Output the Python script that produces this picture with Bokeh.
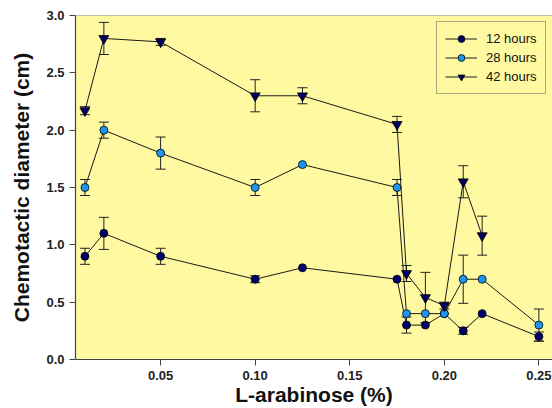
from bokeh.plotting import figure
from bokeh.models import (ColumnDataSource, Whisker, TeeHead, Legend, LegendItem,
                          FixedTicker, PrintfTickFormatter, Span)
from bokeh.embed import file_html
from bokeh.resources import INLINE

# ---- data (L-arabinose %, chemotactic diameter cm, error) ----
x_12 = [0.01, 0.02, 0.05, 0.10, 0.125, 0.175, 0.18, 0.19, 0.20, 0.21, 0.22, 0.25]
y_12 = [0.90, 1.10, 0.90, 0.70, 0.80, 0.70, 0.30, 0.30, 0.40, 0.25, 0.40, 0.20]
e_12 = [0.07, 0.14, 0.07, 0.03, 0.0, 0.0, 0.07, 0.0, 0.0, 0.03, 0.0, 0.04]

x_28 = [0.01, 0.02, 0.05, 0.10, 0.125, 0.175, 0.18, 0.19, 0.20, 0.21, 0.22, 0.25]
y_28 = [1.50, 2.00, 1.80, 1.50, 1.70, 1.50, 0.40, 0.40, 0.40, 0.70, 0.70, 0.30]
e_28 = [0.07, 0.07, 0.14, 0.07, 0.0, 0.07, 0.0, 0.0, 0.0, 0.21, 0.0, 0.14]

x_42 = [0.01, 0.02, 0.05, 0.10, 0.125, 0.175, 0.18, 0.19, 0.20, 0.21, 0.22]
y_42 = [2.17, 2.80, 2.77, 2.30, 2.30, 2.05, 0.75, 0.54, 0.47, 1.55, 1.08]
e_42 = [0.035, 0.14, 0.03, 0.14, 0.07, 0.07, 0.07, 0.22, 0.03, 0.14, 0.17]

x_ticks = [0.05, 0.10, 0.15, 0.20, 0.25]
y_ticks = [0.0, 0.5, 1.0, 1.5, 2.0, 2.5, 3.0]
labels = ["12 hours", "28 hours", "42 hours"]

FONT = "Liberation Sans"
YELLOW = "#FFFAA2"

p = figure(width=552, height=408, output_backend="svg", toolbar_location=None,
           x_range=(0.005, 0.2572), y_range=(0.0, 3.0),
           min_border_left=75, min_border_right=0, min_border_top=15,
           min_border_bottom=49)
p.background_fill_color = YELLOW
p.border_fill_color = "white"
p.outline_line_color = None
p.xgrid.visible = False
p.ygrid.visible = False

p.add_layout(Span(location=3.0, dimension="width", line_color="#8a8a8a", line_width=1.2))

for ax in (p.xaxis[0], p.yaxis[0]):
    ax.axis_line_color = "#444444"
    ax.axis_line_width = 1.2
    ax.major_tick_line_color = "#444444"
    ax.major_tick_out = 6
    ax.major_tick_in = 0
    ax.minor_tick_line_color = None
    ax.major_label_text_font = FONT
    ax.major_label_text_font_style = "bold"
    ax.major_label_text_font_size = "13px"
    ax.major_label_text_color = "#222222"
    ax.axis_label_text_font = FONT
    ax.axis_label_text_font_style = "bold"
    ax.axis_label_text_font_size = "21px"
    ax.axis_label_text_color = "#111111"

p.xaxis.ticker = FixedTicker(ticks=x_ticks)
p.yaxis.ticker = FixedTicker(ticks=y_ticks)
p.xaxis.formatter = PrintfTickFormatter(format="%.2f")
p.yaxis.formatter = PrintfTickFormatter(format="%.1f")
p.xaxis.axis_label = "L-arabinose (%)"
p.yaxis.axis_label = "Chemotactic diameter (cm)"
p.xaxis.major_label_standoff = 5
p.xaxis.axis_label_standoff = 0
p.yaxis.major_label_standoff = 5
p.yaxis.axis_label_standoff = 10

series = [
    (x_12, y_12, e_12, "circle", "#00006B", 8),
    (x_28, y_28, e_28, "circle", "#1E96F0", 8),
    (x_42, y_42, e_42, "inverted_triangle", "#00005E", 10),
]

items = []
# error bars first
for xs, ys, es, marker, color, size in series:
    wx = [x for x, e in zip(xs, es) if e > 0]
    wu = [y + e for y, e in zip(ys, es) if e > 0]
    wl = [y - e for y, e in zip(ys, es) if e > 0]
    src = ColumnDataSource(dict(x=wx, upper=wu, lower=wl))
    w = Whisker(source=src, base="x", upper="upper", lower="lower",
                line_color="#222222", line_width=1,
                upper_head=TeeHead(size=10, line_color="#222222", line_width=1),
                lower_head=TeeHead(size=10, line_color="#222222", line_width=1))
    p.add_layout(w)

for (xs, ys, es, marker, color, size), lab in zip(series, labels):
    src = ColumnDataSource(dict(x=xs, y=ys))
    lr = p.line("x", "y", source=src, line_color="#1a1a1a", line_width=1)
    sr = p.scatter("x", "y", source=src, marker=marker, size=size,
                   fill_color=color, line_color="#000000", line_width=0.8)
    items.append(LegendItem(label=lab, renderers=[lr, sr]))

legend = Legend(items=items, location=(361, 265), orientation="vertical",
                background_fill_color=YELLOW, background_fill_alpha=1.0,
                border_line_color="#555555", border_line_width=1,
                label_text_font=FONT, label_text_font_size="13px",
                label_text_color="#111111",
                glyph_width=32, glyph_height=17, label_height=17,
                label_standoff=9, spacing=2, padding=8, margin=0)
p.add_layout(legend, "center")

open("out.html", "w").write(file_html(p, INLINE))
